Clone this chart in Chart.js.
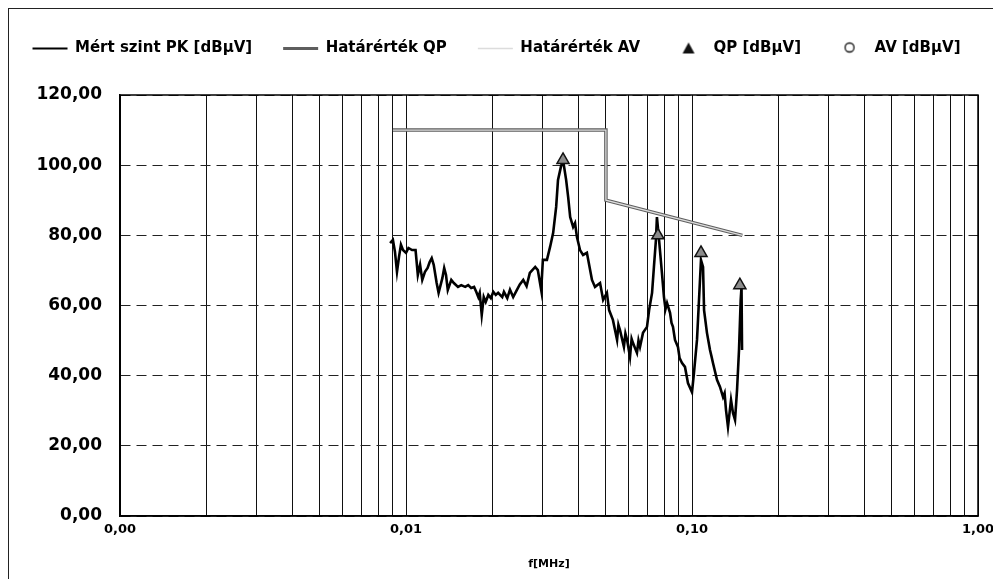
<!DOCTYPE html>
<html lang="hu">
<head>
<meta charset="UTF-8">
<title>Zavarfeszültség</title>
<script src="https://cdn.jsdelivr.net/npm/chart.js@4.4.0/dist/chart.umd.min.js"></script>
<style>
  html, body { margin: 0; padding: 0; background: #fff; }
  #wrap { position: relative; width: 993px; height: 579px; overflow: hidden; }
  #frame { position: absolute; left: 8px; top: 8px; width: 1000px; height: 600px; border-left: 1.5px solid #222; border-top: 1.5px solid #222; }
  canvas { position: absolute; left: 0; top: 0; }
</style>
</head>
<body>
<div id="wrap">
  <div id="frame"></div>
  <canvas id="canvas" width="993" height="579"></canvas>
</div>
<script>
// mért csúcsérték (PK) - frekvencia MHz, szint dBµV
const pkFreq = [
  0.0088, 0.0090, 0.00915, 0.0093, 0.00945, 0.0096, 0.00976, 0.0100, 0.0102, 0.0105,
  0.0108, 0.0110, 0.0112, 0.0114, 0.01165, 0.0119, 0.0121, 0.0123, 0.0125, 0.0128,
  0.0130, 0.0134, 0.0136, 0.0138, 0.0140, 0.0144, 0.0147, 0.0152, 0.0156, 0.0161,
  0.0165, 0.0169, 0.0173, 0.0176, 0.0179, 0.0181, 0.0184, 0.0187, 0.0190, 0.0194,
  0.0198, 0.0202, 0.0206, 0.0210, 0.0217, 0.0220, 0.0226, 0.0231, 0.0237, 0.0244,
  0.0250, 0.0257, 0.0264, 0.0271, 0.0283, 0.0289, 0.0297, 0.0301, 0.0311, 0.0319,
  0.0327, 0.0335, 0.0340, 0.0348, 0.0354, 0.0363, 0.0369, 0.0375, 0.0384, 0.0390,
  0.0396, 0.0406, 0.0416, 0.0429, 0.0447, 0.0458, 0.0477, 0.0489, 0.0504, 0.0513,
  0.0529, 0.0547, 0.0553, 0.0560, 0.0578, 0.0585, 0.0593, 0.0607, 0.0615, 0.0622,
  0.0642, 0.0650, 0.0658, 0.0674, 0.0696, 0.0708, 0.0725, 0.0736, 0.0748, 0.0754,
  0.0767, 0.0785, 0.0798, 0.0808, 0.0818, 0.0838, 0.0848, 0.0858, 0.0872, 0.0893,
  0.0905, 0.0923, 0.0945, 0.0968, 0.1000, 0.1016, 0.1041, 0.1058, 0.1075, 0.1093,
  0.1102, 0.1128, 0.1156, 0.1170, 0.1184, 0.1223, 0.1253, 0.1284, 0.1300, 0.1315,
  0.1336, 0.1369, 0.1391, 0.1414, 0.1437, 0.1460, 0.1480, 0.1490, 0.1496
];
const pkLevel = [
  77.8, 78.7, 75.3, 69.6, 73.8, 77.3, 75.8, 75.0, 76.4, 75.8,
  75.8, 68.7, 71.6, 67.3, 69.6, 70.7, 72.4, 73.5, 71.6, 66.4,
  63.6, 67.8, 70.7, 68.7, 64.4, 67.3, 66.4, 65.3, 65.8, 65.3,
  65.8, 65.0, 65.3, 63.9, 62.4, 63.6, 57.3, 62.4, 61.0, 63.0,
  62.1, 63.9, 63.0, 63.6, 62.4, 63.9, 62.1, 64.5, 62.4, 64.4,
  66.0, 67.3, 65.5, 69.3, 71.0, 70.1, 64.4, 73.0, 73.0, 76.7,
  80.7, 88.1, 95.8, 99.5, 101.5, 95.8, 90.9, 85.2, 82.4, 83.5,
  79.5, 75.8, 74.4, 75.0, 67.3, 65.3, 66.4, 61.6, 63.6, 58.7,
  55.9, 50.2, 54.5, 53.0, 48.2, 52.0, 50.2, 45.3, 50.5, 49.3,
  46.5, 50.0, 48.2, 52.2, 53.9, 58.7, 63.6, 71.0, 78.7, 85.2,
  78.7, 69.3, 62.4, 59.0, 60.7, 57.9, 55.0, 53.9, 50.2, 48.2,
  45.0, 43.6, 42.5, 37.9, 35.3, 40.8, 50.2, 61.6, 73.0, 71.0,
  58.7, 52.2, 47.3, 45.5, 43.6, 38.8, 36.8, 33.9, 35.0, 30.2,
  25.4, 33.1, 29.4, 27.4, 35.9, 47.3, 61.6, 65.3, 47.3
];

// határértékek
const limitFreq = [0.009, 0.05, 0.05, 0.15];
const limitQP = [110, 110, 90, 80];
const limitAV = [110, 110, 90, 80];

// kvázi-csúcs mérési pontok
const qpFreq = [0.0354, 0.0760, 0.1075, 0.147];
const qpLevel = [101.5, 80.0, 75.0, 65.8];

// átlag mérési pontok (nincs)
const avFreq = [];
const avLevel = [];

const xGridValues = [
  0.001, 0.002, 0.003, 0.004, 0.005, 0.006, 0.007, 0.008, 0.009,
  0.01, 0.02, 0.03, 0.04, 0.05, 0.06, 0.07, 0.08, 0.09,
  0.1, 0.2, 0.3, 0.4, 0.5, 0.6, 0.7, 0.8, 0.9, 1
];
const xLabelValues = [0.001, 0.01, 0.1, 1];

function pts(xs, ys) {
  return xs.map((x, i) => ({ x: x, y: ys[i] }));
}
function fmt(v) {
  return Number(v).toFixed(2).replace('.', ',');
}

// legend ikonok
function makeIcon(draw) {
  const c = document.createElement('canvas');
  c.width = 16; c.height = 16;
  draw(c.getContext('2d'));
  return c;
}
const triIcon = makeIcon(g => {
  g.beginPath(); g.moveTo(8, 2); g.lineTo(14, 13); g.lineTo(2, 13); g.closePath();
  g.fillStyle = '#111'; g.fill();
});
const circIcon = makeIcon(g => {
  g.beginPath(); g.arc(8, 7, 4.5, 0, Math.PI * 2);
  g.fillStyle = '#fff'; g.fill(); g.lineWidth = 1.3; g.strokeStyle = '#111'; g.stroke();
});

const FONT = 'DejaVu Sans';
const TOP_PAD = 10;

// a legenda magassága -> rajzterület teteje 95px-nél
const legendHeight = {
  id: 'legendHeight',
  beforeInit(chart) {
    const fit = chart.legend.fit;
    chart.legend.fit = function () {
      fit.call(this);
      this.height = 95 - TOP_PAD;
    };
  }
};

// keret a rajzterület köré
const plotBorder = {
  id: 'plotBorder',
  afterDatasetsDraw(chart) {
    const a = chart.chartArea, ctx = chart.ctx;
    ctx.save();
    ctx.strokeStyle = '#000';
    ctx.lineWidth = 1.5;
    ctx.strokeRect(a.left, a.top, a.right - a.left, a.bottom - a.top);
    ctx.restore();
  }
};

const ctx = document.getElementById('canvas').getContext('2d');
new Chart(ctx, {
  type: 'scatter',
  data: {
    datasets: [
      {
        label: 'Mért szint PK [dBµV]',
        data: pts(pkFreq, pkLevel),
        showLine: true, borderColor: '#000', borderWidth: 2.6, pointRadius: 0,
        legendIcon: 'line', legendWidth: 2, order: 1
      },
      {
        label: 'Határérték QP',
        data: pts(limitFreq, limitQP),
        showLine: true, borderColor: '#5e5e5e', borderWidth: 3.5, pointRadius: 0,
        legendIcon: 'line', legendWidth: 3, order: 3
      },
      {
        label: 'Határérték AV',
        data: pts(limitFreq, limitAV),
        showLine: true, borderColor: '#dcdcdc', borderWidth: 1.3, pointRadius: 0,
        legendIcon: 'line', legendWidth: 1.5, order: 2
      },
      {
        label: 'QP [dBµV]',
        data: pts(qpFreq, qpLevel),
        pointStyle: 'triangle', pointRadius: 7,
        backgroundColor: '#8c8c8c', borderColor: '#111', borderWidth: 1.5,
        legendIcon: triIcon, order: 0
      },
      {
        label: 'AV [dBµV]',
        data: pts(avFreq, avLevel),
        pointStyle: 'circle', pointRadius: 5,
        backgroundColor: '#fff', borderColor: '#111', borderWidth: 1.3,
        legendIcon: circIcon, order: 0
      }
    ]
  },
  options: {
    responsive: false,
    animation: false,
    layout: { padding: { top: TOP_PAD, left: 0, right: 0, bottom: 0 } },
    plugins: {
      tooltip: { enabled: false },
      legend: {
        position: 'top',
        labels: {
          usePointStyle: true,
          pointStyleWidth: 35,
          boxHeight: 14,
          padding: 31,
          color: '#000',
          font: { family: FONT, size: 15, weight: 'bold' },
          generateLabels: chart => chart.data.datasets.map((ds, i) => ({
            text: ds.label,
            pointStyle: ds.legendIcon,
            strokeStyle: ds.legendIcon === 'line' ? ds.borderColor : '#111',
            fillStyle: '#fff',
            lineWidth: ds.legendIcon === 'line' ? ds.legendWidth : 0,
            fontColor: '#000',
            hidden: false,
            datasetIndex: i
          }))
        }
      }
    },
    scales: {
      x: {
        type: 'logarithmic',
        min: 0.001,
        max: 1,
        afterBuildTicks: s => { s.ticks = xGridValues.map(v => ({ value: v })); },
        afterFit: s => { s.height = 63; s.paddingRight = 15; },
        ticks: {
          autoSkip: false,
          maxRotation: 0,
          padding: 6,
          color: '#000',
          font: { family: FONT, size: 13, weight: 'bold' },
          callback: v => xLabelValues.includes(v) ? fmt(v) : ''
        },
        grid: { color: '#111', lineWidth: 1, drawTicks: false },
        border: { color: '#000', width: 1.5 },
        title: {
          display: true,
          text: 'f[MHz]',
          color: '#000',
          padding: { top: 10, bottom: 8 },
          font: { family: FONT, size: 11, weight: 'bold' }
        }
      },
      y: {
        min: 0,
        max: 120,
        afterFit: s => { s.width = 120; },
        ticks: {
          stepSize: 20,
          padding: 18,
          color: '#000',
          font: { family: FONT, size: 17, weight: 'bold' },
          callback: v => fmt(v)
        },
        grid: { color: '#222', lineWidth: 1, drawTicks: false },
        border: { color: '#000', width: 1.5, dash: [10, 6] }
      }
    }
  },
  plugins: [legendHeight, plotBorder]
});
</script>
</body>
</html>
